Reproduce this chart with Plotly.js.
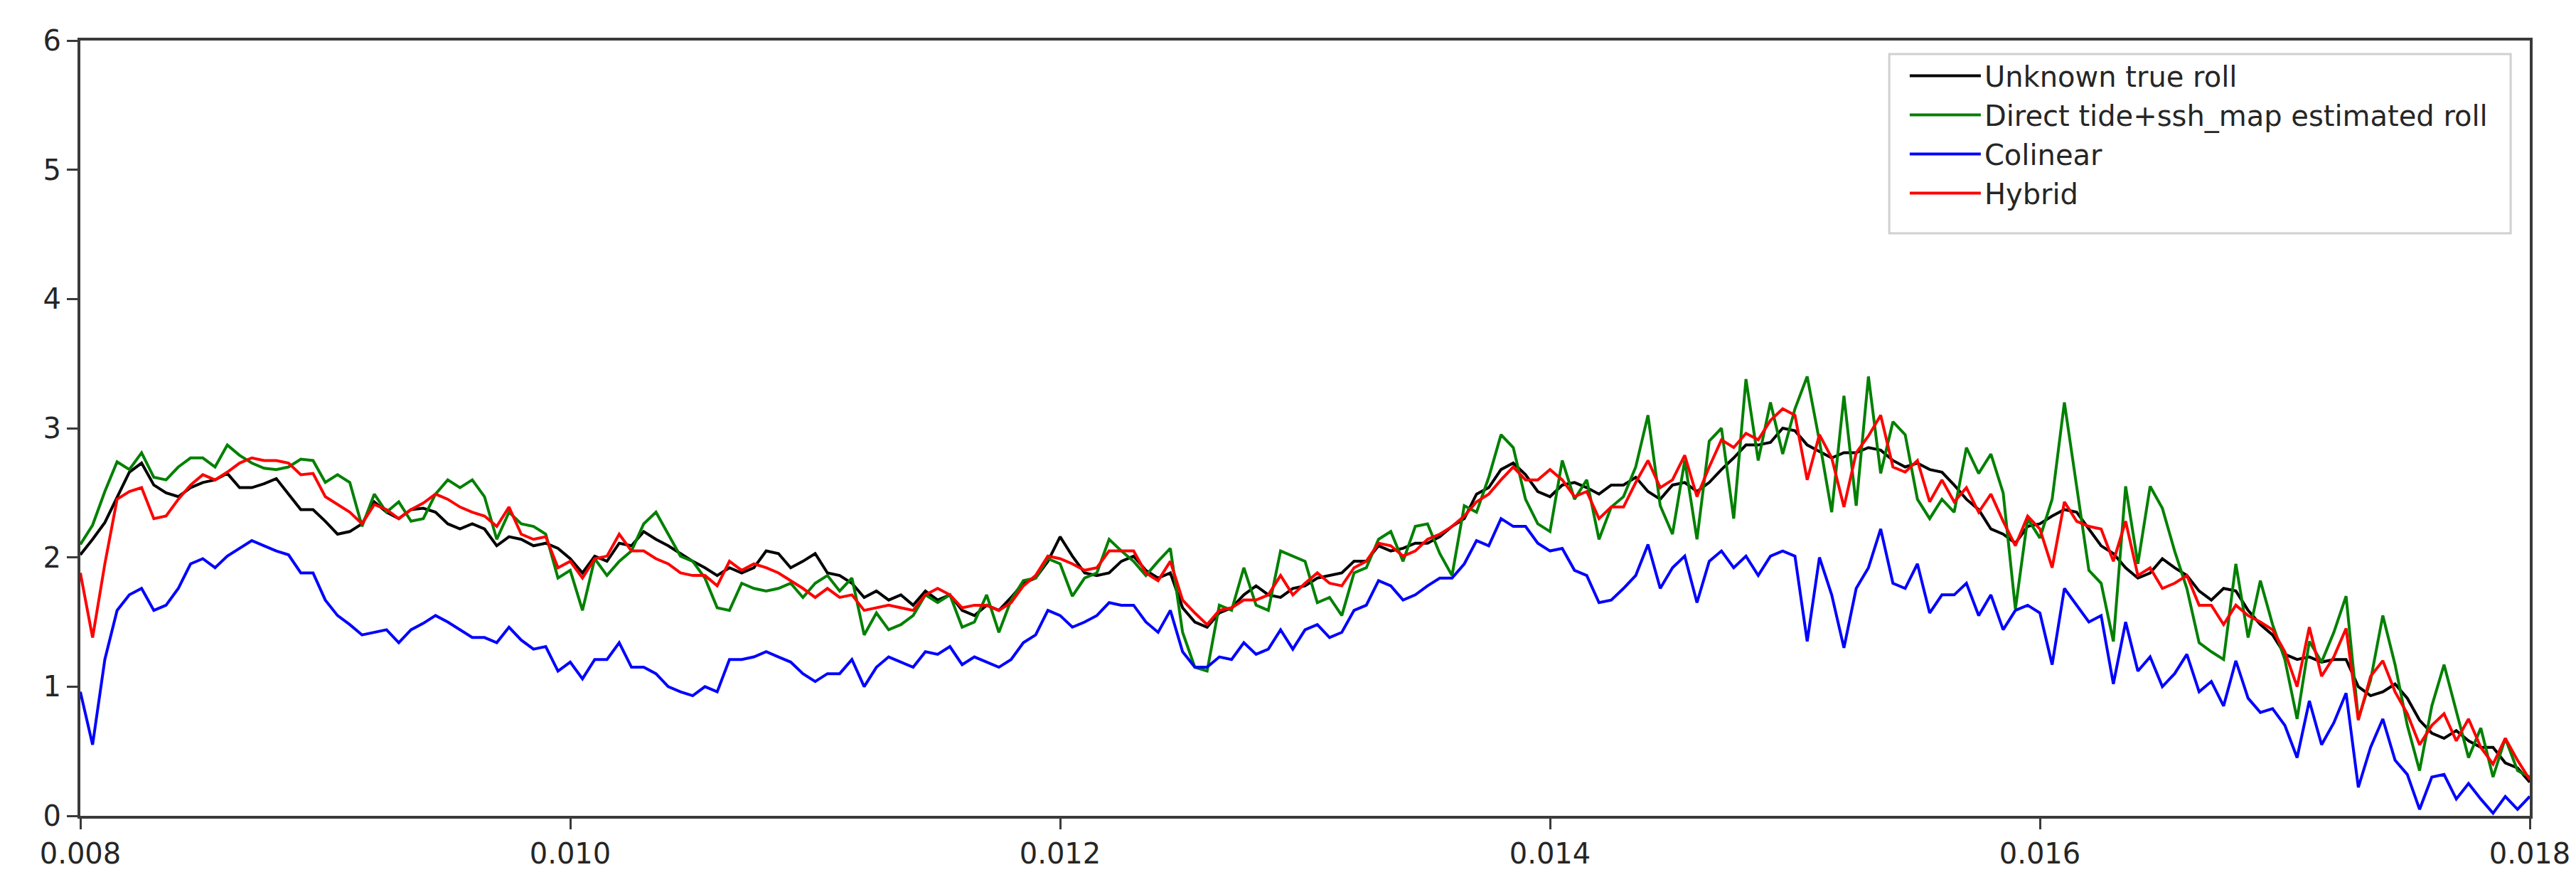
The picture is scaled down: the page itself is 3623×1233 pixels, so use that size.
<!DOCTYPE html>
<html>
<head>
<meta charset="utf-8">
<script src="https://cdn.plot.ly/plotly-3.0.1.min.js"></script>
<style>
    html, body { margin: 0; padding: 0; background: #ffffff; }
    #plot { width: 3623px; height: 1233px; }
</style>
</head>
<body>
<div id="plot"></div>
<script>
// sample positions (one every 0.00005)
const time = [
    0.00800, 0.00805, 0.00810, 0.00815, 0.00820, 0.00825, 0.00830, 0.00835, 0.00840, 0.00845,
    0.00850, 0.00855, 0.00860, 0.00865, 0.00870, 0.00875, 0.00880, 0.00885, 0.00890, 0.00895,
    0.00900, 0.00905, 0.00910, 0.00915, 0.00920, 0.00925, 0.00930, 0.00935, 0.00940, 0.00945,
    0.00950, 0.00955, 0.00960, 0.00965, 0.00970, 0.00975, 0.00980, 0.00985, 0.00990, 0.00995,
    0.01000, 0.01005, 0.01010, 0.01015, 0.01020, 0.01025, 0.01030, 0.01035, 0.01040, 0.01045,
    0.01050, 0.01055, 0.01060, 0.01065, 0.01070, 0.01075, 0.01080, 0.01085, 0.01090, 0.01095,
    0.01100, 0.01105, 0.01110, 0.01115, 0.01120, 0.01125, 0.01130, 0.01135, 0.01140, 0.01145,
    0.01150, 0.01155, 0.01160, 0.01165, 0.01170, 0.01175, 0.01180, 0.01185, 0.01190, 0.01195,
    0.01200, 0.01205, 0.01210, 0.01215, 0.01220, 0.01225, 0.01230, 0.01235, 0.01240, 0.01245,
    0.01250, 0.01255, 0.01260, 0.01265, 0.01270, 0.01275, 0.01280, 0.01285, 0.01290, 0.01295,
    0.01300, 0.01305, 0.01310, 0.01315, 0.01320, 0.01325, 0.01330, 0.01335, 0.01340, 0.01345,
    0.01350, 0.01355, 0.01360, 0.01365, 0.01370, 0.01375, 0.01380, 0.01385, 0.01390, 0.01395,
    0.01400, 0.01405, 0.01410, 0.01415, 0.01420, 0.01425, 0.01430, 0.01435, 0.01440, 0.01445,
    0.01450, 0.01455, 0.01460, 0.01465, 0.01470, 0.01475, 0.01480, 0.01485, 0.01490, 0.01495,
    0.01500, 0.01505, 0.01510, 0.01515, 0.01520, 0.01525, 0.01530, 0.01535, 0.01540, 0.01545,
    0.01550, 0.01555, 0.01560, 0.01565, 0.01570, 0.01575, 0.01580, 0.01585, 0.01590, 0.01595,
    0.01600, 0.01605, 0.01610, 0.01615, 0.01620, 0.01625, 0.01630, 0.01635, 0.01640, 0.01645,
    0.01650, 0.01655, 0.01660, 0.01665, 0.01670, 0.01675, 0.01680, 0.01685, 0.01690, 0.01695,
    0.01700, 0.01705, 0.01710, 0.01715, 0.01720, 0.01725, 0.01730, 0.01735, 0.01740, 0.01745,
    0.01750, 0.01755, 0.01760, 0.01765, 0.01770, 0.01775, 0.01780, 0.01785, 0.01790, 0.01795,
    0.01800
];

// Unknown true roll
const trueRoll = [
    2.02, 2.14, 2.27, 2.47, 2.66, 2.73, 2.56, 2.50, 2.47, 2.54,
    2.58, 2.60, 2.65, 2.54, 2.54, 2.57, 2.61, 2.49, 2.37, 2.37,
    2.28, 2.18, 2.20, 2.26, 2.43, 2.35, 2.30, 2.37, 2.38, 2.35,
    2.26, 2.22, 2.26, 2.22, 2.09, 2.16, 2.14, 2.09, 2.11, 2.07,
    1.99, 1.88, 2.01, 1.97, 2.11, 2.09, 2.20, 2.14, 2.09, 2.03,
    1.97, 1.92, 1.86, 1.92, 1.88, 1.92, 2.05, 2.03, 1.92, 1.97,
    2.03, 1.88, 1.86, 1.80, 1.69, 1.74, 1.67, 1.71, 1.63, 1.74,
    1.67, 1.71, 1.59, 1.55, 1.63, 1.59, 1.69, 1.80, 1.84, 1.97,
    2.16, 2.01, 1.88, 1.86, 1.88, 1.97, 2.01, 1.90, 1.84, 1.88,
    1.61, 1.50, 1.46, 1.57, 1.61, 1.71, 1.78, 1.71, 1.69, 1.76,
    1.78, 1.84, 1.86, 1.88, 1.97, 1.97, 2.09, 2.05, 2.07, 2.11,
    2.11, 2.16, 2.24, 2.30, 2.49, 2.54, 2.68, 2.73, 2.64, 2.51,
    2.47, 2.56, 2.58, 2.54, 2.49, 2.56, 2.56, 2.62, 2.51, 2.45,
    2.56, 2.58, 2.51, 2.58, 2.68, 2.77, 2.87, 2.87, 2.89, 3.00,
    2.98, 2.87, 2.82, 2.77, 2.81, 2.81, 2.85, 2.83, 2.75, 2.70,
    2.73, 2.68, 2.66, 2.56, 2.45, 2.37, 2.22, 2.18, 2.11, 2.24,
    2.26, 2.32, 2.37, 2.35, 2.22, 2.09, 2.03, 1.92, 1.84, 1.88,
    1.99, 1.92, 1.86, 1.74, 1.67, 1.76, 1.74, 1.59, 1.48, 1.40,
    1.25, 1.21, 1.23, 1.19, 1.21, 1.21, 1.00, 0.93, 0.96, 1.02,
    0.91, 0.74, 0.64, 0.60, 0.66, 0.58, 0.53, 0.53, 0.41, 0.37,
    0.26
];

// Direct tide+ssh_map estimated roll
const directRoll = [
    2.10, 2.25, 2.51, 2.74, 2.68, 2.81, 2.62, 2.60, 2.70, 2.77,
    2.77, 2.70, 2.87, 2.79, 2.73, 2.69, 2.68, 2.70, 2.76, 2.75,
    2.58, 2.64, 2.58, 2.24, 2.49, 2.35, 2.43, 2.28, 2.30, 2.49,
    2.60, 2.54, 2.60, 2.47, 2.14, 2.35, 2.26, 2.24, 2.18, 1.84,
    1.90, 1.59, 1.99, 1.86, 1.97, 2.05, 2.26, 2.35, 2.18, 2.01,
    1.97, 1.84, 1.61, 1.59, 1.80, 1.76, 1.74, 1.76, 1.80, 1.69,
    1.80, 1.86, 1.74, 1.84, 1.40, 1.57, 1.44, 1.48, 1.55, 1.71,
    1.65, 1.71, 1.46, 1.50, 1.71, 1.42, 1.67, 1.82, 1.84, 1.99,
    1.95, 1.70, 1.84, 1.88, 2.14, 2.05, 1.97, 1.86, 1.97, 2.07,
    1.42, 1.15, 1.12, 1.63, 1.59, 1.92, 1.63, 1.59, 2.05, 2.01,
    1.97, 1.65, 1.69, 1.55, 1.88, 1.92, 2.14, 2.20, 1.97, 2.24,
    2.26, 2.03, 1.86, 2.40, 2.35, 2.62, 2.95, 2.85, 2.45, 2.26,
    2.20, 2.75, 2.45, 2.60, 2.14, 2.39, 2.47, 2.70, 3.10, 2.40,
    2.18, 2.75, 2.14, 2.90, 3.00, 2.30, 3.38, 2.75, 3.20, 2.80,
    3.15, 3.40, 2.90, 2.35, 3.25, 2.40, 3.40, 2.65, 3.05, 2.95,
    2.45, 2.30, 2.45, 2.35, 2.85, 2.65, 2.80, 2.50, 1.60, 2.30,
    2.15, 2.45, 3.20, 2.55, 1.90, 1.80, 1.35, 2.55, 1.95, 2.55,
    2.38, 2.05, 1.76, 1.34, 1.27, 1.21, 1.95, 1.38, 1.82, 1.48,
    1.21, 0.75, 1.35, 1.19, 1.42, 1.70, 0.75, 1.05, 1.55, 1.17,
    0.70, 0.35, 0.85, 1.17, 0.81, 0.45, 0.68, 0.30, 0.60, 0.35,
    0.30
];

// Colinear
const colinearRoll = [
    0.96, 0.55, 1.21, 1.59, 1.71, 1.76, 1.59, 1.63, 1.76, 1.95,
    1.99, 1.92, 2.01, 2.07, 2.13, 2.09, 2.05, 2.02, 1.88, 1.88,
    1.67, 1.55, 1.48, 1.40, 1.42, 1.44, 1.34, 1.44, 1.49, 1.55,
    1.50, 1.44, 1.38, 1.38, 1.34, 1.46, 1.36, 1.29, 1.31, 1.12,
    1.19, 1.06, 1.21, 1.21, 1.34, 1.15, 1.15, 1.10, 1.00, 0.96,
    0.93, 1.00, 0.96, 1.21, 1.21, 1.23, 1.27, 1.23, 1.19, 1.10,
    1.04, 1.10, 1.10, 1.21, 1.00, 1.15, 1.23, 1.19, 1.15, 1.27,
    1.25, 1.31, 1.17, 1.23, 1.19, 1.15, 1.21, 1.34, 1.40, 1.59,
    1.55, 1.46, 1.50, 1.55, 1.65, 1.63, 1.63, 1.50, 1.42, 1.59,
    1.27, 1.15, 1.15, 1.23, 1.21, 1.34, 1.25, 1.29, 1.44, 1.29,
    1.44, 1.48, 1.38, 1.42, 1.59, 1.63, 1.82, 1.78, 1.67, 1.71,
    1.78, 1.84, 1.84, 1.95, 2.13, 2.09, 2.30, 2.24, 2.24, 2.11,
    2.05, 2.07, 1.90, 1.86, 1.65, 1.67, 1.76, 1.86, 2.10, 1.76,
    1.92, 2.01, 1.65, 1.97, 2.05, 1.92, 2.01, 1.86, 2.01, 2.05,
    2.01, 1.35, 2.00, 1.71, 1.30, 1.76, 1.92, 2.22, 1.80, 1.76,
    1.95, 1.57, 1.71, 1.71, 1.80, 1.55, 1.71, 1.44, 1.59, 1.63,
    1.57, 1.17, 1.76, 1.63, 1.50, 1.55, 1.02, 1.50, 1.12, 1.23,
    1.00, 1.10, 1.25, 0.96, 1.04, 0.85, 1.20, 0.91, 0.80, 0.83,
    0.70, 0.45, 0.89, 0.55, 0.72, 0.95, 0.22, 0.53, 0.75, 0.43,
    0.32, 0.05, 0.30, 0.32, 0.13, 0.25, 0.13, 0.02, 0.15, 0.05,
    0.15
];

// Hybrid
const hybridRoll = [
    1.88, 1.38, 1.95, 2.45, 2.51, 2.54, 2.30, 2.32, 2.45, 2.56,
    2.64, 2.60, 2.66, 2.73, 2.77, 2.75, 2.75, 2.73, 2.64, 2.65,
    2.47, 2.41, 2.35, 2.26, 2.41, 2.37, 2.30, 2.37, 2.42, 2.49,
    2.45, 2.39, 2.35, 2.32, 2.24, 2.39, 2.18, 2.14, 2.16, 1.92,
    1.97, 1.84, 1.99, 2.01, 2.18, 2.05, 2.05, 1.99, 1.95, 1.88,
    1.86, 1.86, 1.78, 1.97, 1.90, 1.95, 1.92, 1.88, 1.82, 1.76,
    1.69, 1.76, 1.69, 1.71, 1.59, 1.61, 1.63, 1.61, 1.59, 1.71,
    1.76, 1.71, 1.61, 1.63, 1.63, 1.59, 1.65, 1.78, 1.86, 2.01,
    1.99, 1.95, 1.90, 1.92, 2.05, 2.05, 2.05, 1.88, 1.82, 1.97,
    1.67, 1.57, 1.48, 1.59, 1.61, 1.67, 1.67, 1.71, 1.86, 1.71,
    1.80, 1.88, 1.80, 1.78, 1.92, 1.97, 2.11, 2.09, 2.01, 2.05,
    2.14, 2.18, 2.24, 2.32, 2.43, 2.49, 2.60, 2.70, 2.60, 2.60,
    2.68, 2.60, 2.47, 2.51, 2.30, 2.39, 2.39, 2.58, 2.75, 2.54,
    2.60, 2.79, 2.47, 2.70, 2.91, 2.85, 2.96, 2.91, 3.06, 3.15,
    3.10, 2.60, 2.95, 2.77, 2.39, 2.81, 2.94, 3.10, 2.70, 2.66,
    2.75, 2.43, 2.60, 2.43, 2.54, 2.35, 2.49, 2.28, 2.09, 2.32,
    2.22, 1.92, 2.43, 2.28, 2.24, 2.22, 1.97, 2.28, 1.86, 1.92,
    1.76, 1.80, 1.86, 1.63, 1.63, 1.48, 1.63, 1.55, 1.50, 1.44,
    1.27, 1.00, 1.46, 1.08, 1.23, 1.45, 0.74, 1.08, 1.20, 0.96,
    0.79, 0.55, 0.70, 0.79, 0.58, 0.75, 0.53, 0.40, 0.60, 0.43,
    0.28
];

const seriesNames = ['Unknown true roll', 'Direct tide+ssh_map estimated roll', 'Colinear', 'Hybrid'];
const seriesColors = ['#000000', '#008000', '#0000ff', '#ff0000'];
const seriesValues = [trueRoll, directRoll, colinearRoll, hybridRoll];

const xTicks = [0.008, 0.010, 0.012, 0.014, 0.016, 0.018];
const xTickText = ['0.008', '0.010', '0.012', '0.014', '0.016', '0.018'];
const yTicks = [0, 1, 2, 3, 4, 5, 6];

let data = seriesValues.map((vals, i) => ({
    x: time,
    y: vals,
    mode: 'lines',
    name: seriesNames[i],
    line: { color: seriesColors[i], width: 4 },
}));

const axisStyle = {
    showgrid: false,
    zeroline: false,
    showline: true,
    mirror: true,
    linecolor: '#3a3a3a',
    linewidth: 4,
    ticks: 'outside',
    ticklen: 15,
    tickwidth: 3,
    tickcolor: '#3a3a3a',
    tickfont: { family: 'DejaVu Sans', size: 40, color: '#262626' },
};

const layout = {
    width: 3623,
    height: 1233,
    margin: { l: 113, r: 65, t: 57, b: 86 },
    paper_bgcolor: '#ffffff',
    plot_bgcolor: '#ffffff',
    font: { family: 'DejaVu Sans', color: '#262626' },
    xaxis: Object.assign({}, axisStyle, {
        range: [0.008, 0.018],
        tickvals: xTicks,
        ticktext: xTickText,
    }),
    yaxis: Object.assign({}, axisStyle, {
        range: [0, 6],
        tickvals: yTicks,
    }),
    showlegend: true,
    legend: {
        x: 0.7454,
        y: 0.9844,
        xanchor: 'left',
        yanchor: 'top',
        bgcolor: 'rgba(0,0,0,0)',
        borderwidth: 0,
        itemwidth: 100,
        font: { family: 'DejaVu Sans', size: 40, color: '#262626' },
    },
    // legend frame, drawn like matplotlib's box
    shapes: [{
        type: 'rect',
        xref: 'paper',
        yref: 'paper',
        x0: 0.7385,
        x1: 0.9922,
        y0: 0.7514,
        y1: 0.9826,
        line: { color: '#d0d0d0', width: 3 },
        fillcolor: 'rgba(255,255,255,0.8)',
        layer: 'above',
    }],
};

const config = {
    displayModeBar: false,
    staticPlot: true,
};

Plotly.newPlot('plot', data, layout, config);
</script>
</body>
</html>
